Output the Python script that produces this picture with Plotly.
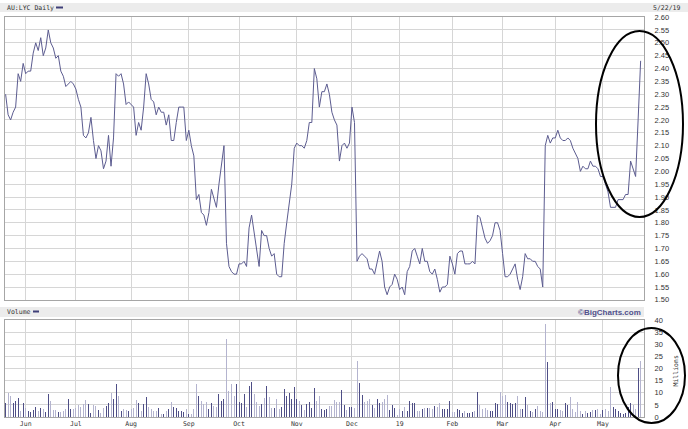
import numpy as np
import pandas as pd
import plotly.graph_objects as go

# ---------------- data ----------------
title_text = "AU:LYC Daily"
date_label = "5/22/19"
start_date = "2018-05-22"
asx_holidays = ["2018-06-11", "2018-12-25", "2018-12-26", "2019-01-01",
                "2019-01-28", "2019-04-19", "2019-04-22", "2019-04-25"]

price = [
    2.30, 2.22, 2.20, 2.23, 2.25, 2.38, 2.35, 2.42, 2.38, 2.39,
    2.39, 2.46, 2.50, 2.47, 2.52, 2.45, 2.48, 2.55, 2.50, 2.48,
    2.44, 2.45, 2.39, 2.37, 2.33, 2.34, 2.35, 2.34, 2.32, 2.28,
    2.25, 2.14, 2.13, 2.15, 2.21, 2.12, 2.05, 2.10, 2.08, 2.01,
    2.04, 2.14, 2.02, 2.13, 2.38, 2.37, 2.38, 2.34, 2.26, 2.27,
    2.26, 2.25, 2.14, 2.19, 2.16, 2.25, 2.38, 2.34, 2.28, 2.27,
    2.22, 2.25, 2.23, 2.23, 2.18, 2.22, 2.12, 2.12, 2.19, 2.25,
    2.25, 2.25, 2.12, 2.16, 2.10, 2.06, 1.89, 1.91, 1.84, 1.83,
    1.79, 1.84, 1.93, 1.89, 1.86, 1.95, 2.02, 2.10, 1.72, 1.63,
    1.61, 1.60, 1.60, 1.64, 1.64, 1.65, 1.63, 1.78, 1.83, 1.76,
    1.69, 1.63, 1.77, 1.75, 1.75, 1.70, 1.67, 1.68, 1.60, 1.59,
    1.59, 1.72, 1.80, 1.88, 1.95, 2.09, 2.11, 2.10, 2.10, 2.09,
    2.12, 2.19, 2.19, 2.40, 2.36, 2.25, 2.31, 2.31, 2.34, 2.30,
    2.23, 2.20, 2.18, 2.04, 2.10, 2.11, 2.09, 2.11, 2.25, 2.19,
    1.65, 1.67, 1.68, 1.67, 1.66, 1.62, 1.62, 1.60, 1.65, 1.69,
    1.65, 1.55, 1.52, 1.55, 1.56, 1.60, 1.58, 1.54, 1.55, 1.52,
    1.61, 1.63, 1.69, 1.70, 1.67, 1.64, 1.70, 1.65, 1.65, 1.61,
    1.60, 1.62, 1.58, 1.53, 1.55, 1.55, 1.56, 1.67, 1.64, 1.60,
    1.68, 1.69, 1.69, 1.64, 1.64, 1.64, 1.65, 1.64, 1.83, 1.82,
    1.78, 1.74, 1.72, 1.73, 1.75, 1.80, 1.80, 1.77, 1.68, 1.59,
    1.59, 1.60, 1.62, 1.64, 1.58, 1.54, 1.59, 1.68, 1.66, 1.66,
    1.65, 1.65, 1.63, 1.62, 1.55, 2.10, 2.14, 2.11, 2.13, 2.13,
    2.16, 2.13, 2.12, 2.12, 2.13, 2.12, 2.09, 2.07, 2.05, 2.00,
    2.02, 2.01, 2.01, 2.04, 2.02, 2.02, 2.01, 1.98, 1.98, 1.95,
    1.92, 1.86, 1.86, 1.86, 1.89, 1.89, 1.89, 1.91, 1.91, 2.04,
    2.01, 1.98, 2.20, 2.43,
]

volume_millions = [
    5.6, 9.9, 8.5, 5.7, 6.5, 7.9, 2.5, 5.7, 3.6, 2.5,
    2.2, 2.9, 4.2, 2.5, 3.6, 3.3, 2.2, 9.3, 6.7, 2.8,
    2.9, 2.1, 2.1, 2.5, 3.2, 7.4, 3.2, 3.5, 3.9, 4.9,
    4.2, 5.3, 7.1, 5.3, 1.8, 4.9, 4.6, 2.9, 1.8, 3.9,
    4.6, 5.7, 9.9, 7.4, 13.6, 8.5, 2.5, 3.2, 2.8, 2.5,
    3.2, 3.8, 7.1, 5.7, 2.5, 5.4, 8.3, 4.2, 3.2, 2.5,
    2.5, 3.6, 1.1, 1.1, 2.5, 3.2, 6.3, 4.3, 3.6, 2.5,
    2.5, 2.1, 3.2, 1.1, 1.1, 3.5, 13.6, 8.5, 6.7, 5.3,
    6.3, 3.5, 5.6, 4.6, 4.2, 9.7, 6.7, 7.4, 32.4, 10.8,
    13.6, 8.8, 13.6, 6.3, 5.7, 9.4, 4.2, 12.6, 14.3, 9.4,
    6.3, 4.6, 5.3, 7.8, 12.9, 8.1, 3.9, 3.9, 7.4, 3.2,
    4.2, 11.5, 8.8, 10.1, 7.6, 12.5, 7.4, 6.7, 4.9, 2.9,
    5.3, 6.0, 3.9, 12.1, 6.7, 8.5, 3.5, 2.9, 3.5, 4.6,
    4.6, 6.9, 6.3, 6.0, 11.1, 4.9, 2.9, 4.2, 4.2, 3.6,
    23.3, 14.0, 9.0, 6.3, 6.7, 7.6, 4.9, 3.9, 7.4, 5.7,
    6.3, 7.6, 9.0, 2.9, 4.9, 3.8, 0.8, 3.5, 2.5, 4.2,
    2.5, 6.7, 5.6, 5.6, 2.5, 2.5, 3.5, 3.6, 3.6, 3.6,
    3.2, 4.6, 4.2, 5.6, 3.2, 3.5, 3.5, 6.7, 2.2, 2.2,
    3.2, 2.8, 1.8, 2.5, 1.8, 1.8, 2.2, 2.5, 10.4, 4.9,
    3.2, 3.6, 2.8, 2.5, 2.5, 5.6, 5.3, 10.4, 8.8, 9.0,
    6.0, 5.7, 5.3, 5.7, 8.5, 3.5, 3.5, 8.1, 4.9, 2.5,
    2.1, 3.2, 4.6, 2.5, 2.1, 38.2, 22.9, 5.7, 6.3, 3.2,
    3.5, 2.8, 2.5, 5.7, 4.9, 8.1, 3.2, 2.1, 6.0, 2.5,
    1.4, 2.5, 1.8, 2.1, 2.8, 2.8, 3.2, 1.1, 2.8, 3.2,
    2.5, 12.5, 4.2, 3.5, 2.5, 1.5, 1.1, 1.5, 4.2, 5.7,
    4.9, 3.2, 20.1, 23.3,
]

# sessions that closed below their open despite a higher close (drawn light)
close_below_open_days = ["2019-03-26", "2019-05-22"]

month_names = {1: "19", 2: "Feb", 3: "Mar", 4: "Apr", 5: "May", 6: "Jun",
               7: "Jul", 8: "Aug", 9: "Sep", 10: "Oct", 11: "Nov", 12: "Dec"}
price_ticks = [round(1.50 + 0.05 * k, 2) for k in range(23)]
volume_ticks = [0, 5, 10, 15, 20, 25, 30, 35, 40]

# ---------------- derived ----------------
n = min(len(price), len(volume_millions))
price = price[:n]
volume_millions = volume_millions[:n]
dates = pd.bdate_range(start_date, periods=n, freq="C", holidays=asx_holidays)
idx = np.arange(n)

month_pos, month_txt = [], []
for i in range(1, n):
    if dates[i].month != dates[i - 1].month:
        month_pos.append(i)
        month_txt.append(month_names[dates[i].month])

DARK = "#4e4e86"
LIGHT = "#b4b4cf"
light_set = set(pd.to_datetime(close_below_open_days))
bar_colors = []
for i in range(n):
    up = i == 0 or price[i] >= price[i - 1]
    if dates[i] in light_set:
        up = False
    bar_colors.append(DARK if up else LIGHT)

# ---------------- layout geometry (pixels) ----------------
W, H = 688, 429
ML, MR, MT, MB = 5, 44, 17, 12
PW, PH = W - ML - MR, H - MT - MB


def px(x):
    return (x - ML) / PW


def py(y):
    return (H - MB - y) / PH


GRID = "#d6d6d6"
FRAME = "#a6a6a6"
TXT = "#333333"
MONO = "DejaVu Sans Mono"
SANS = "Liberation Sans"

fig = go.Figure()
fig.add_trace(go.Scatter(x=idx, y=price, mode="lines",
                         line=dict(color="#5c5c90", width=1),
                         xaxis="x", yaxis="y", hoverinfo="skip"))
fig.add_trace(go.Bar(x=idx, y=volume_millions, marker=dict(color=bar_colors, line=dict(width=0)),
                     width=0.4, xaxis="x2", yaxis="y2", hoverinfo="skip"))

xr = [-0.24, -0.24 + PW / 2.51]
common_x = dict(range=xr, tickmode="array", tickvals=month_pos, ticktext=month_txt,
                showgrid=True, gridcolor=GRID, gridwidth=1, zeroline=False,
                showline=True, linecolor=FRAME, linewidth=1, mirror=True,
                ticks="", automargin=False, fixedrange=True)

fig.update_layout(
    width=W, height=H, autosize=False,
    margin=dict(l=ML, r=MR, t=MT, b=MB, pad=0),
    paper_bgcolor="white", plot_bgcolor="white",
    showlegend=False, bargap=0,
    xaxis=dict(domain=[0, 1], anchor="y", showticklabels=False, **common_x),
    xaxis2=dict(domain=[0, 1], anchor="y2", showticklabels=True,
                tickfont=dict(family=MONO, size=6.5, color=TXT), **common_x),
    yaxis=dict(domain=[py(300), 1], anchor="x", side="right",
               range=[1.4995, 2.6005], tickmode="array", tickvals=price_ticks,
               ticktext=[f"{v:.2f}" for v in price_ticks],
               tickfont=dict(family=SANS, size=7.5, color=TXT),
               showgrid=True, gridcolor=GRID, zeroline=False,
               showline=True, linecolor=FRAME, mirror=True, ticks="",
               ticklabelstandoff=8, automargin=False, fixedrange=True),
    yaxis2=dict(domain=[0, py(320)], anchor="x2", side="right",
                range=[0, 40.05], tickmode="array", tickvals=volume_ticks,
                tickfont=dict(family=SANS, size=7.5, color=TXT),
                showgrid=True, gridcolor=GRID, zeroline=False,
                showline=True, linecolor=FRAME, mirror=True, ticks="",
                ticklabelstandoff=8, automargin=False, fixedrange=True),
)

shapes = [
    # header bands
    dict(type="rect", xref="paper", yref="paper", x0=px(0), x1=px(688), y0=py(12), y1=py(3),
         fillcolor="#ececec", line=dict(width=0), layer="below"),
    dict(type="rect", xref="paper", yref="paper", x0=px(0), x1=px(644), y0=py(317), y1=py(307),
         fillcolor="#ececec", line=dict(width=0), layer="below"),
    # legend swatches
    dict(type="line", xref="paper", yref="paper", x0=px(56), x1=px(63), y0=py(7.5), y1=py(7.5),
         line=dict(color="#3f3f78", width=2)),
    dict(type="line", xref="paper", yref="paper", x0=px(33), x1=px(39), y0=py(311.5), y1=py(311.5),
         line=dict(color="#3f3f78", width=2)),
    # hand drawn ellipses
    dict(type="circle", xref="paper", yref="paper", x0=px(596), x1=px(683), y0=py(217), y1=py(31),
         line=dict(color="black", width=2)),
    dict(type="circle", xref="paper", yref="paper", x0=px(618), x1=px(685), y0=py(423), y1=py(328),
         line=dict(color="black", width=2)),
]
fig.update_layout(shapes=shapes)

annotations = [
    dict(text=title_text, x=px(5), y=py(7.5), xanchor="left", yanchor="middle",
         font=dict(family=MONO, size=6.5, color=TXT)),
    dict(text=date_label, x=px(651), y=py(7.5), xanchor="left", yanchor="middle",
         font=dict(family=MONO, size=6.5, color=TXT)),
    dict(text="Volume", x=px(5), y=py(311.5), xanchor="left", yanchor="middle",
         font=dict(family=MONO, size=6.5, color=TXT)),
    dict(text="<b>©BigCharts.com</b>", x=px(643), y=py(312), xanchor="right", yanchor="middle",
         font=dict(family=SANS, size=8, color="#50508c")),
    dict(text="Millions", x=px(675.5), y=py(371), xanchor="center", yanchor="middle",
         textangle=-90, font=dict(family=MONO, size=6.5, color=TXT)),
]
for a in annotations:
    a.update(xref="paper", yref="paper", showarrow=False)
fig.update_layout(annotations=annotations)

fig.write_html("out.html",
               config={"displayModeBar": False, "staticPlot": True},
               post_script="document.body.style.margin='0';document.body.style.overflow='hidden';")
